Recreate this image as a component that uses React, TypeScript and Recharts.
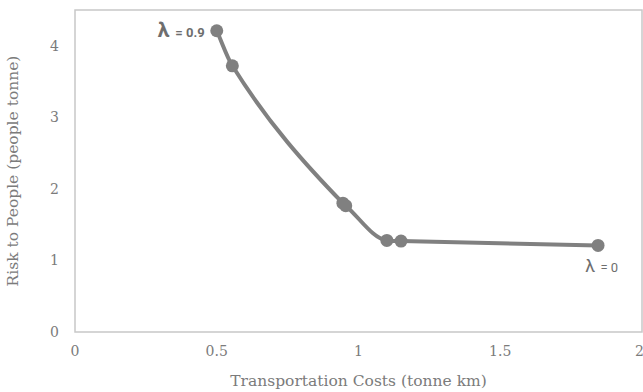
import React from "react";
import { ComposedChart, Line, XAxis, YAxis, ReferenceArea, LabelList } from "recharts";

const costs = [0.5, 0.555, 0.945, 0.955, 1.1, 1.15, 1.845];
const risks = [4.21, 3.72, 1.8, 1.765, 1.28, 1.27, 1.21];
const pointLabels = ["λ = 0.9", "", "", "", "", "", "λ = 0"];
const xTicks = [0, 0.5, 1, 1.5, 2];
const yTicks = [0, 1, 2, 3, 4];

const data = costs.map((c, i) => ({ cost: c, risk: risks[i], label: pointLabels[i] }));

const GRAY = "#808080";
const TEXT = "#7b7b7b";
const SERIF = "'DejaVu Serif', 'Liberation Serif', serif";

// Smoothed line: cubic Hermite in x with harmonic-mean (shape preserving) tangents
const smoothCurve: any = (context: any) => {
  let pts: number[][] = [];
  return {
    areaStart() {},
    areaEnd() {},
    lineStart() {
      pts = [];
    },
    point(x: number, y: number) {
      pts.push([+x, +y]);
    },
    lineEnd() {
      const n = pts.length;
      if (!n) return;
      context.moveTo(pts[0][0], pts[0][1]);
      if (n < 3) {
        for (let i = 1; i < n; i++) context.lineTo(pts[i][0], pts[i][1]);
        return;
      }
      const s: number[] = [];
      for (let i = 0; i < n - 1; i++) s.push((pts[i + 1][1] - pts[i][1]) / (pts[i + 1][0] - pts[i][0]));
      const m: number[] = [];
      for (let i = 0; i < n; i++) {
        if (i === 0) m.push(s[0]);
        else if (i === n - 1) m.push(s[n - 2]);
        else {
          const a = s[i - 1];
          const b = s[i];
          m.push(a * b > 0 ? 2 / (1 / a + 1 / b) : 0);
        }
      }
      for (let i = 0; i < n - 1; i++) {
        const h = pts[i + 1][0] - pts[i][0];
        context.bezierCurveTo(
          pts[i][0] + h / 3,
          pts[i][1] + (m[i] * h) / 3,
          pts[i + 1][0] - h / 3,
          pts[i + 1][1] - (m[i + 1] * h) / 3,
          pts[i + 1][0],
          pts[i + 1][1]
        );
      }
    },
  };
};

const renderLabel = (props: any) => {
  const { x, y, value, index } = props;
  if (!value) return null;
  const sym = value.slice(0, 1);
  const rest = value.slice(1);
  if (index === 0) {
    return (
      <text x={x - 12} y={y + 6} textAnchor="end" fill="#6e6e6e" fontFamily="Roboto, sans-serif">
        <tspan fontSize={21} fontWeight="bold">{sym}</tspan>
        <tspan fontSize={13} fontWeight="bold" dx={3}>{rest}</tspan>
      </text>
    );
  }
  return (
    <text x={x + 20} y={y + 27} textAnchor="end" fill="#6e6e6e" fontFamily="Roboto, sans-serif">
      <tspan fontSize={18}>{sym}</tspan>
      <tspan fontSize={13} dx={2}>{rest}</tspan>
    </text>
  );
};

export default function App() {
  return (
    <div style={{ position: "absolute", left: 0, top: 0, width: 643, height: 392, background: "#fff" }}>
      <ComposedChart width={643} height={392} data={data} margin={{ top: 10, right: 1, bottom: 0, left: 0 }}>
        <ReferenceArea x1={0} x2={2} y1={0} y2={4.5} fill="none" stroke="#c8c8c8" strokeWidth={1.5} ifOverflow="visible" />
        <XAxis
          type="number"
          dataKey="cost"
          domain={[0, 2]}
          ticks={xTicks}
          height={60}
          axisLine={false}
          tickLine={false}
          tickSize={0}
          tickMargin={14}
          tick={{ fill: TEXT, fontSize: 14, fontFamily: SERIF }}
          label={{ value: "Transportation Costs (tonne km)", position: "insideBottom", offset: 6, fill: TEXT, fontSize: 15.5, fontFamily: SERIF }}
        />
        <YAxis
          type="number"
          dataKey="risk"
          domain={[0, 4.5]}
          ticks={yTicks}
          width={75}
          axisLine={false}
          tickLine={false}
          tickSize={0}
          tickMargin={16}
          tick={{ fill: TEXT, fontSize: 14, fontFamily: SERIF }}
          label={{ value: "Risk to People (people tonne)", angle: -90, position: "insideLeft", offset: 12, fill: TEXT, fontSize: 15.5, fontFamily: SERIF, style: { textAnchor: "middle" } }}
        />
        <Line
          type={smoothCurve}
          dataKey="risk"
          stroke={GRAY}
          strokeWidth={4}
          dot={{ r: 6.5, fill: GRAY, stroke: GRAY, strokeWidth: 0 }}
          isAnimationActive={false}
        >
          <LabelList dataKey="label" content={renderLabel} />
        </Line>
      </ComposedChart>
    </div>
  );
}
